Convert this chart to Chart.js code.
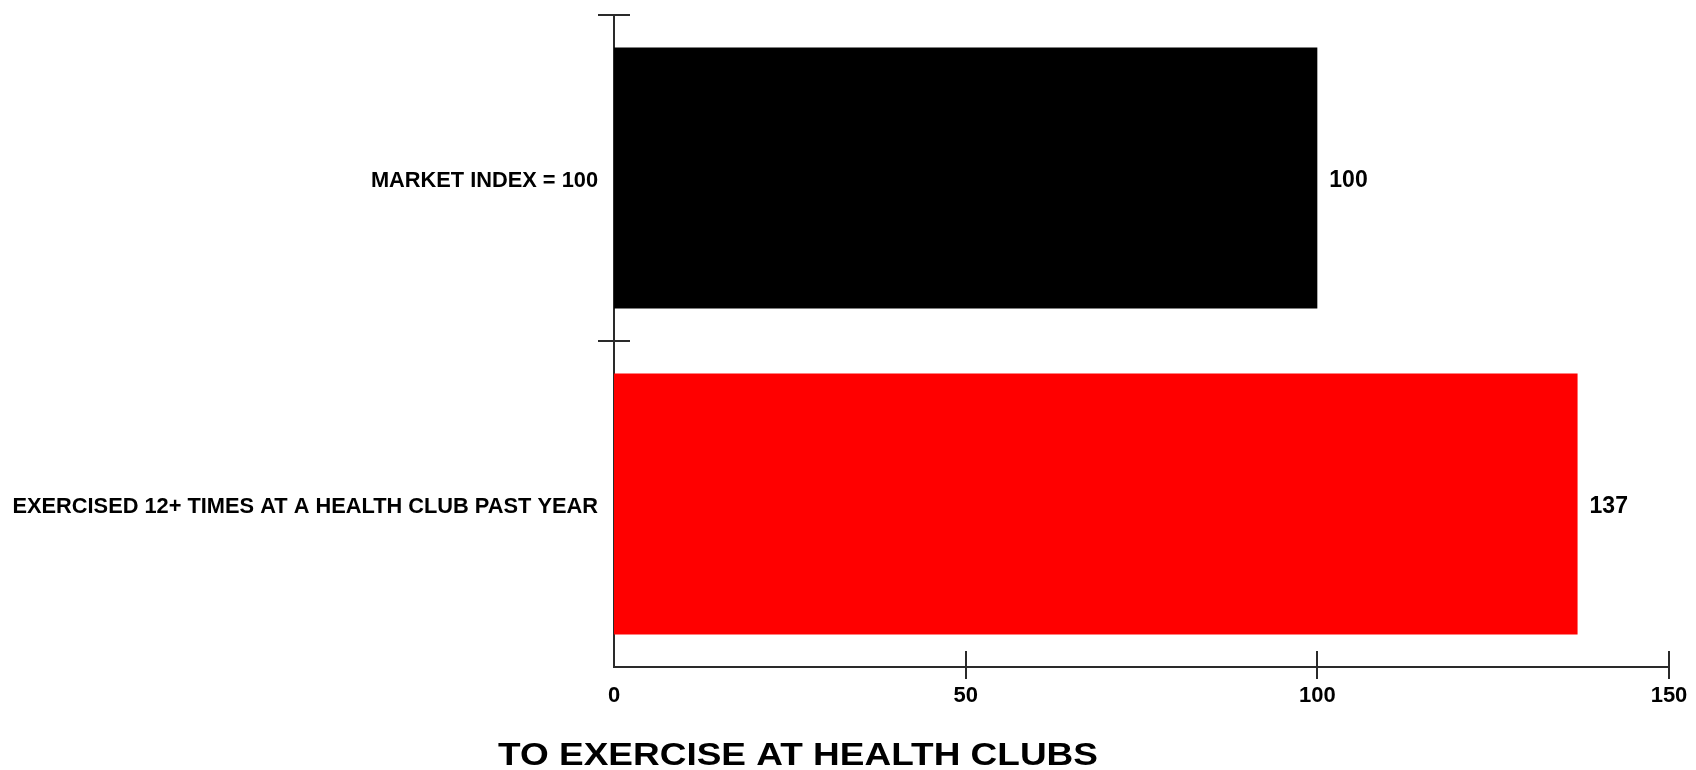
<!DOCTYPE html>
<html>
<head>
<meta charset="utf-8">
<title>Health club index</title>
<style>
  html, body { margin: 0; padding: 0; background: #ffffff; }
  #wrap { width: 1696px; height: 770px; position: relative; }
</style>
<script src="https://cdn.jsdelivr.net/npm/chart.js@4/dist/chart.umd.min.js"></script>
</head>
<body>
<div id="wrap"><canvas id="chart"></canvas></div>
<script>
// Index values per group (market = 100)
const categories = ['MARKET INDEX = 100', 'EXERCISED 12+ TIMES AT A HEALTH CLUB PAST YEAR'];
const indexValues = [100, 137];
const barColors = ['#000000', '#ff0000'];
const xTicks = [0, 50, 100, 150];
const chartTitle = 'TO EXERCISE AT HEALTH CLUBS';

const FONT = '"Liberation Sans", Arial, Helvetica, sans-serif';
const AXIS_COLOR = '#2a2a2a';

// Tick marks that cross the axis lines
const crossTicks = {
  id: 'crossTicks',
  afterDraw(chart) {
    const { ctx, scales: { x, y } } = chart;
    ctx.save();
    ctx.strokeStyle = AXIS_COLOR;
    ctx.lineWidth = 2;
    const band = y.getPixelForValue(1) - y.getPixelForValue(0);
    for (let i = 0; i < categories.length; i++) {
      const py = Math.round(y.getPixelForValue(i) - band / 2);
      ctx.beginPath();
      ctx.moveTo(x.left - 16, py);
      ctx.lineTo(x.left + 16, py);
      ctx.stroke();
    }
    xTicks.forEach(v => {
      if (v === x.min) return;
      const px = Math.round(x.getPixelForValue(v));
      ctx.beginPath();
      ctx.moveTo(px, y.bottom - 16);
      ctx.lineTo(px, y.bottom + 12);
      ctx.stroke();
    });
    ctx.restore();
  }
};

// Value printed just past the end of each bar
const valueLabels = {
  id: 'valueLabels',
  afterDatasetsDraw(chart) {
    const { ctx } = chart;
    const meta = chart.getDatasetMeta(0);
    ctx.save();
    ctx.font = 'bold 23px ' + FONT;
    ctx.fillStyle = '#000';
    ctx.textAlign = 'left';
    ctx.textBaseline = 'middle';
    meta.data.forEach((bar, i) => {
      ctx.fillText(String(indexValues[i]), bar.x + 12, bar.y + 3);
    });
    ctx.restore();
  }
};

// Wide bold caption under the axis
const caption = {
  id: 'caption',
  afterDraw(chart) {
    const { ctx } = chart;
    ctx.save();
    ctx.font = 'bold 32px ' + FONT;
    ctx.fillStyle = '#000';
    ctx.textAlign = 'left';
    ctx.textBaseline = 'alphabetic';
    const w = ctx.measureText(chartTitle).width;
    const stretch = 600 / w;
    ctx.translate(498, 765);
    ctx.scale(stretch, 1);
    ctx.fillText(chartTitle, 0, 0);
    ctx.restore();
  }
};

new Chart(document.getElementById('chart'), {
  type: 'bar',
  data: {
    labels: categories,
    datasets: [{
      data: indexValues,
      backgroundColor: barColors,
      borderWidth: 0,
      barPercentage: 0.8,
      categoryPercentage: 1.0
    }]
  },
  options: {
    indexAxis: 'y',
    responsive: true,
    maintainAspectRatio: false,
    animation: false,
    layout: { padding: { top: 15, right: 27, left: 0, bottom: 0 } },
    plugins: {
      legend: { display: false },
      tooltip: { enabled: false },
      title: { display: false }
    },
    scales: {
      x: {
        type: 'linear',
        min: 0,
        max: 150,
        afterBuildTicks: s => { s.ticks = xTicks.map(v => ({ value: v })); },
        afterFit: s => { s.height = 103; s.paddingLeft = 0; s.paddingRight = 0; },
        grid: { display: false, drawTicks: false },
        border: { display: true, color: AXIS_COLOR, width: 2 },
        ticks: {
          padding: 16,
          color: '#000',
          font: { family: FONT, size: 22, weight: 'bold' }
        }
      },
      y: {
        type: 'category',
        afterFit: s => { s.width = 614; s.paddingTop = 0; s.paddingBottom = 0; },
        grid: { display: false, drawTicks: false },
        border: { display: true, color: AXIS_COLOR, width: 2 },
        ticks: {
          padding: 16,
          labelOffset: 3,
          color: '#000',
          font: { family: FONT, size: 21.8, weight: 'bold' }
        }
      }
    }
  },
  plugins: [crossTicks, valueLabels, caption]
});
</script>
</body>
</html>
